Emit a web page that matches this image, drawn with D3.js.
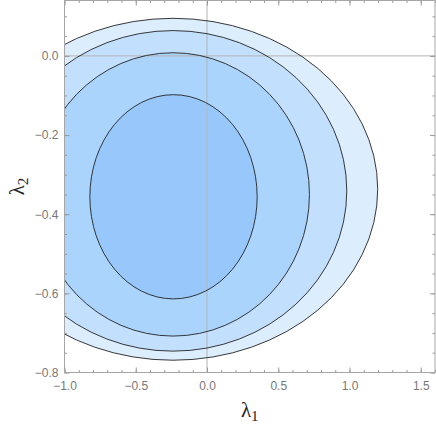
<!DOCTYPE html>
<html>
<head>
<meta charset="utf-8">
<script src="https://cdn.jsdelivr.net/npm/d3@7"></script>
<style>
  body { margin: 0; background: #fff; }
  svg { display: block; }
  .tick text { font-family: "Liberation Sans", Arial, sans-serif; font-size: 12px; fill: #787878; }
</style>
</head>
<body>
<div id="chart"></div>
<script>
// contour levels, outer to inner
var levelCx = [-0.238, -0.238, -0.238, -0.235];
var levelCy = [-0.337, -0.341, -0.350, -0.356];
var levelRx = [1.436, 1.219, 0.957, 0.587];
var levelRy = [0.432, 0.405, 0.358, 0.258];
var levelFill = ["#dcedfd", "#c2e0fd", "#aad4fc", "#98c8fb"];

var xMajor = [-1.0, -0.5, 0.0, 0.5, 1.0, 1.5];
var yMajor = [-0.8, -0.6, -0.4, -0.2, 0.0];
var xMinor = d3.range(-10, 17).map(function(i) { return i / 10; });
var yMinor = d3.range(-16, 3).map(function(i) { return i / 20; });

var width = 436, height = 429;
var pLeft = 64.5, pRight = 435, pTop = 0.5, pBottom = 372.5;

var x = d3.scaleLinear().domain([-1, 1.6]).range([pLeft, pRight]);
var y = d3.scaleLinear().domain([-0.8, 0.14]).range([pBottom, pTop]);

var svg = d3.select("#chart").append("svg")
  .attr("width", width)
  .attr("height", height);

svg.append("clipPath").attr("id", "plot")
  .append("rect")
  .attr("x", pLeft).attr("y", pTop)
  .attr("width", pRight - pLeft).attr("height", pBottom - pTop);

var plot = svg.append("g").attr("clip-path", "url(#plot)");

var levels = d3.range(levelCx.length);

// filled bands
plot.selectAll("ellipse.band")
  .data(levels)
  .enter().append("ellipse")
  .attr("class", "band")
  .attr("cx", function(i) { return x(levelCx[i]); })
  .attr("cy", function(i) { return y(levelCy[i]); })
  .attr("rx", function(i) { return x(levelCx[i] + levelRx[i]) - x(levelCx[i]); })
  .attr("ry", function(i) { return y(levelCy[i]) - y(levelCy[i] + levelRy[i]); })
  .attr("fill", function(i) { return levelFill[i]; });

// axes through origin
plot.append("line")
  .attr("x1", x(0)).attr("x2", x(0))
  .attr("y1", pTop).attr("y2", pBottom)
  .attr("stroke", "#b4b4b4").attr("stroke-width", 1);
plot.append("line")
  .attr("x1", pLeft).attr("x2", pRight)
  .attr("y1", y(0)).attr("y2", y(0))
  .attr("stroke", "#b4b4b4").attr("stroke-width", 1);

// contour lines
plot.selectAll("ellipse.line")
  .data(levels)
  .enter().append("ellipse")
  .attr("class", "line")
  .attr("cx", function(i) { return x(levelCx[i]); })
  .attr("cy", function(i) { return y(levelCy[i]); })
  .attr("rx", function(i) { return x(levelCx[i] + levelRx[i]) - x(levelCx[i]); })
  .attr("ry", function(i) { return y(levelCy[i]) - y(levelCy[i] + levelRy[i]); })
  .attr("fill", "none")
  .attr("stroke", "#222")
  .attr("stroke-width", 0.9);

// ticks on all four sides, pointing inward
function styleAxis(g) {
  g.select(".domain").remove();
  g.selectAll(".tick line").attr("stroke", "#999");
}
var fmt = function(d) { return d3.format(".1f")(d).replace("-", "\u2212"); };

svg.append("g").attr("transform", "translate(0," + pBottom + ")")
  .call(d3.axisBottom(x).tickValues(xMinor).tickSize(-2.5).tickFormat(""))
  .call(styleAxis);
svg.append("g").attr("transform", "translate(0," + pBottom + ")")
  .call(d3.axisBottom(x).tickValues(xMajor).tickSizeInner(-5).tickSizeOuter(0).tickPadding(9).tickFormat(fmt))
  .call(styleAxis);
svg.append("g").attr("transform", "translate(0," + pTop + ")")
  .call(d3.axisTop(x).tickValues(xMinor).tickSize(-2.5).tickFormat(""))
  .call(styleAxis);
svg.append("g").attr("transform", "translate(0," + pTop + ")")
  .call(d3.axisTop(x).tickValues(xMajor).tickSize(-5).tickFormat(""))
  .call(styleAxis);

svg.append("g").attr("transform", "translate(" + pLeft + ",0)")
  .call(d3.axisLeft(y).tickValues(yMinor).tickSize(-2.5).tickFormat(""))
  .call(styleAxis);
svg.append("g").attr("transform", "translate(" + pLeft + ",0)")
  .call(d3.axisLeft(y).tickValues(yMajor).tickSizeInner(-5).tickSizeOuter(0).tickPadding(6).tickFormat(fmt))
  .call(styleAxis);
svg.append("g").attr("transform", "translate(" + pRight + ",0)")
  .call(d3.axisRight(y).tickValues(yMinor).tickSize(-2.5).tickFormat(""))
  .call(styleAxis);
svg.append("g").attr("transform", "translate(" + pRight + ",0)")
  .call(d3.axisRight(y).tickValues(yMajor).tickSize(-5).tickFormat(""))
  .call(styleAxis);

// frame
svg.append("rect")
  .attr("x", pLeft).attr("y", pTop)
  .attr("width", pRight - pLeft).attr("height", pBottom - pTop)
  .attr("fill", "none").attr("stroke", "#a6a6a6").attr("stroke-width", 1);

// axis labels
var xl = svg.append("text")
  .attr("x", (pLeft + pRight) / 2).attr("y", 417)
  .attr("text-anchor", "middle")
  .style("font-family", "'Liberation Serif', 'Times New Roman', serif")
  .style("font-size", "21px").attr("fill", "#222");
xl.append("tspan").text("\u03bb");
xl.append("tspan").attr("font-size", "15px").attr("dy", 4).text("1");

var yl = svg.append("text")
  .attr("transform", "translate(24," + ((pTop + pBottom) / 2) + ") rotate(-90)")
  .attr("text-anchor", "middle")
  .style("font-family", "'Liberation Serif', 'Times New Roman', serif")
  .style("font-size", "21px").attr("fill", "#222");
yl.append("tspan").text("\u03bb");
yl.append("tspan").attr("font-size", "15px").attr("dy", 4).text("2");
</script>
</body>
</html>
